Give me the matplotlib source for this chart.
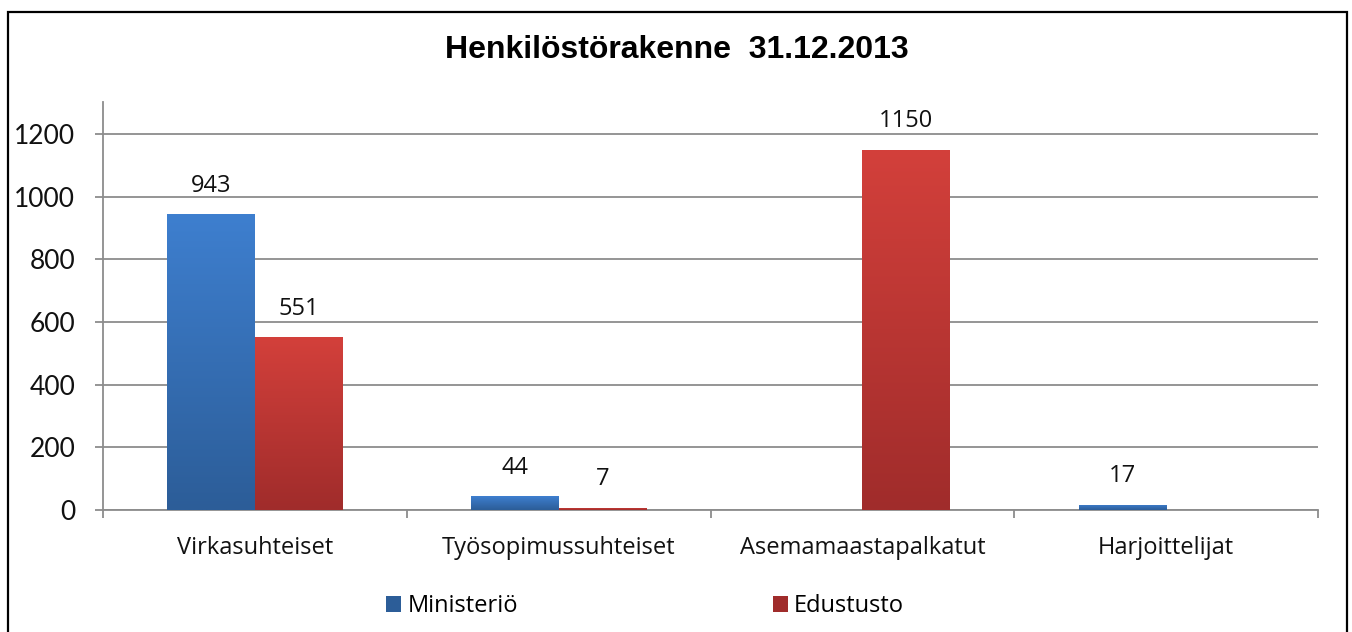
import matplotlib.pyplot as plt
import numpy as np
from matplotlib.colors import LinearSegmentedColormap
from matplotlib.patches import Rectangle

# Data
categories = ["Virkasuhteiset", "Työsopimussuhteiset", "Asemamaastapalkatut", "Harjoittelijat"]
series_names = ["Ministeriö", "Edustusto"]
ministerio = [943, 44, 0, 17]
edustusto = [551, 7, 1150, 0]
title = "Henkilöstörakenne  31.12.2013"

# gradient colours (top, bottom)
blue_grad = ("#3e7fcf", "#2c5d98")
red_grad = ("#d3403b", "#a02c2b")

label_font = ["Open Sans", "DejaVu Sans"]
tick_font = ["Lato", "DejaVu Sans"]

fig = plt.figure(figsize=(13.52, 6.32), dpi=100)
ax = fig.add_axes([103 / 1352, 122 / 632, (1318 - 103) / 1352, (510 - 102) / 632])

x = np.arange(len(categories))
width = 0.288

bars_m = ax.bar(x - width / 2, ministerio, width, color=blue_grad[1], zorder=3,
                label=series_names[0])
bars_e = ax.bar(x + width / 2, edustusto, width, color=red_grad[1], zorder=3,
                label=series_names[1])

# vertical gradient fill on each bar
grad = np.linspace(1, 0, 256).reshape(-1, 1)
for bars, (top, bottom) in ((bars_m, blue_grad), (bars_e, red_grad)):
    cmap = LinearSegmentedColormap.from_list("g", [bottom, top])
    for b in bars:
        h = b.get_height()
        if h <= 0:
            continue
        x0 = b.get_x()
        im = ax.imshow(grad, cmap=cmap, aspect="auto", zorder=3.5,
                       extent=[x0, x0 + b.get_width(), 0, h], origin="upper")
        im.set_clip_path(b)

ax.set_xlim(-0.5, len(categories) - 0.5)
ax.set_ylim(0, 1302)

# data labels
for bars, vals in ((bars_m, ministerio), (bars_e, edustusto)):
    for b, v in zip(bars, vals):
        if v == 0:
            continue
        ax.annotate(str(v), (b.get_x() + b.get_width() / 2, v),
                    xytext=(0, 12), textcoords="offset points",
                    ha="center", va="bottom", fontsize=17, family=label_font,
                    color="#111111")

# axes styling
ax.set_yticks(np.arange(0, 1201, 200))
ax.grid(axis="y", color="#8c8c8c", linewidth=1.3, zorder=0)
ax.set_axisbelow(True)
for s in ("top", "right"):
    ax.spines[s].set_visible(False)
for s in ("left", "bottom"):
    ax.spines[s].set_color("#8c8c8c")
    ax.spines[s].set_linewidth(1.3)

ax.tick_params(axis="y", length=6, width=1.3, color="#8c8c8c", pad=14,
               labelsize=19)
ax.set_xticks(np.arange(-0.5, len(categories)), minor=False)
ax.set_xticklabels([])
ax.set_xticks(x, minor=True)
ax.set_xticklabels(categories, minor=True)
ax.tick_params(axis="x", which="major", length=6, width=1.3, color="#8c8c8c")
ax.tick_params(axis="x", which="minor", length=0, pad=19, labelsize=17)
for lbl in ax.get_yticklabels():
    lbl.set_family(tick_font)
    lbl.set_color("#111111")
for lbl in ax.get_xticklabels(minor=True):
    lbl.set_family(label_font)
    lbl.set_color("#111111")

fig.text(677 / 1352, 1 - 50 / 632, title, ha="center", va="center",
         fontsize=23, fontweight="bold", family="Liberation Sans")

leg = fig.legend(handles=[bars_m, bars_e], labels=series_names, loc="center",
                 bbox_to_anchor=(645 / 1352, 1 - 606 / 632), ncol=2,
                 frameon=False, handlelength=0.65, handleheight=0.65,
                 handletextpad=0.25, columnspacing=10.8,
                 prop={"family": label_font, "size": 17})
for h, (top, bottom) in zip(leg.legend_handles, (blue_grad, red_grad)):
    h.set_facecolor(bottom)

# outer frame
fig.patches.append(Rectangle((8 / 1352, -0.02), (1347 - 8) / 1352, 1 - 12 / 632 + 0.02,
                             transform=fig.transFigure, fill=False,
                             edgecolor="black", linewidth=1.6))

fig.savefig("out.png", dpi=100)
